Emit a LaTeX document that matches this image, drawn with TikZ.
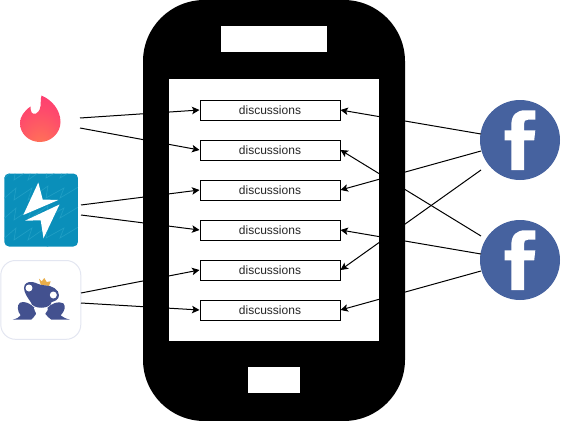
\documentclass[tikz,border=0pt]{standalone}
\usepackage{fontspec}
\setmainfont{Liberation Sans}
\usetikzlibrary{arrows.meta}
\definecolor{fbblue}{HTML}{46629F}
\definecolor{frogblue}{HTML}{43518F}
\definecolor{boltblue}{HTML}{0A8FBA}
\definecolor{boltline}{HTML}{22A0C6}
\definecolor{crown}{HTML}{E9AE4A}
\definecolor{frogedge}{HTML}{E3E6F1}
\definecolor{flameA}{HTML}{FF7854}
\definecolor{flameB}{HTML}{FE4A6C}
\definecolor{flameC}{HTML}{FD267A}
\pgfdeclareradialshading{flameshade}{\pgfpoint{0bp}{-32bp}}{
  color(0bp)=(flameA);
  color(32bp)=(flameB);
  color(68bp)=(flameC);
  color(100bp)=(flameC)}
\tikzset{
  px/.style={x=0.75pt,y=-0.75pt},
  msgbox/.style={draw=black,line width=0.75pt,fill=white,minimum width=105pt,minimum height=15pt,inner sep=0pt,text height=7pt,text depth=0pt,font=\fontsize{9}{11}\selectfont,text=black!85},
  link/.style={draw=black,line width=0.75pt,-{Stealth[length=5.6pt,width=5.6pt,inset=1.3pt]}},
  fbdisc/.style={circle,fill=fbblue,minimum size=60pt,inner sep=0pt},
}
\newcommand{\fbglyph}[1]{%
  \fill[white,shift={(#1)}] (-8.7,30) -- (-8.7,0.3) -- (-15.3,0.3) -- (-15.3,-9.7) -- (-8.7,-9.7) -- (-8.7,-15)
    .. controls (-8.7,-25.5) and (-3,-29.7) .. (5,-29.7) -- (15.3,-29.7) -- (15.3,-20.3) -- (8,-20.3)
    .. controls (5,-20.3) and (4,-19) .. (4,-16) -- (4,-9.7) -- (15.3,-9.7) -- (14.2,0.3) -- (4,0.3) -- (4,30) -- cycle;}
\begin{document}
\begin{tikzpicture}[px]
\useasboundingbox (0,0) rectangle (561,421);
% phone
\fill[black,rounded corners=46pt] (143,0) rectangle (405,421);
\fill[white] (169,79) rectangle (379,341);
\fill[white] (221,26) rectangle (327,52);
\fill[white] (248,367) rectangle (300,393);
% tinder flame
\shade[shading=flameshade] (41.5,95.5) .. controls (39.5,103) and (43,109) .. (36,113.5)
  .. controls (32,115) and (30.5,112) .. (30.5,106.5)
  .. controls (24,111) and (20,117) .. (20,123)
  .. controls (20,134) and (29,142) .. (40,142)
  .. controls (51,142) and (60.5,133) .. (60.5,122)
  .. controls (60.5,110) and (52,100) .. (41.5,95.5) -- cycle;
% bolt tile
\begin{scope}
\clip[rounded corners=3.5pt] (4.3,173.5) rectangle (78,246.5);
\fill[boltblue] (4,173) rectangle (78,247);
\foreach \yy in {168,188,208,228,248}{
  \draw[boltline,line width=0.45pt,shift={(0,\yy)}]
    (0,14) -- (16,0) -- (14,12) -- (32,0) -- (28,12) -- (48,-2) -- (46,10) -- (64,0) -- (60,10) -- (80,-2);}
\end{scope}
\fill[white] (38.3,182.5) -- (42.7,199.5) -- (58.3,200) -- (23.3,215) -- cycle;
\fill[white] (59.5,204.5) -- (43.5,238.3) -- (40.7,220.3) -- (25,220.7) -- cycle;
% frog tile
\draw[frogedge,line width=0.75pt,fill=white,rounded corners=11pt] (0.8,260.5) rectangle (80.8,339.3);
\begin{scope}[shift={(0,258)},scale=1/3]
\fill[crown] (117,62) -- (125,70) -- (133,60) -- (140,72) -- (152,70) -- (147,84) -- (122,80) -- cycle;
% head
\fill[frogblue] (72,90) .. controls (72,76) and (85,70) .. (97,72)
  .. controls (110,74) and (118,82) .. (135,82)
  .. controls (155,82) and (178,95) .. (177,112)
  .. controls (176,125) and (165,130) .. (155,132)
  .. controls (152,155) and (96,155) .. (92,132)
  .. controls (85,122) and (72,105) .. (72,90) -- cycle;
% legs
\fill[frogblue] (38,185) .. controls (50,182) and (58,178) .. (62,172)
  .. controls (52,160) and (50,142) .. (60,134)
  .. controls (72,128) and (92,136) .. (104,150)
  -- (108,168) .. controls (102,176) and (98,182) .. (94,185) -- cycle;
\fill[frogblue] (210,185) .. controls (198,182) and (188,178) .. (182,172)
  .. controls (194,160) and (198,145) .. (190,136)
  .. controls (176,128) and (154,136) .. (142,150)
  -- (136,168) .. controls (144,176) and (148,182) .. (154,185) -- cycle;
% smile
\fill[white] (102,150) .. controls (114,155) and (132,155) .. (144,151)
  .. controls (143,160) and (136,169) .. (122,169)
  .. controls (110,169) and (104,160) .. (102,150) -- cycle;
\fill[white] (87,90) circle (10.5);
\fill[white] (160,111) circle (10.5);
\end{scope}
% facebook discs
\node[fbdisc] (fbA) at (520,140) {};
\node[fbdisc] (fbB) at (520,260) {};
\fbglyph{fbA.center}
\fbglyph{fbB.center}
% message boxes
\node[msgbox] (m1) at (270,110) {discussions};
\node[msgbox] (m2) at (270,150) {discussions};
\node[msgbox] (m3) at (270,190) {discussions};
\node[msgbox] (m4) at (270,230) {discussions};
\node[msgbox] (m5) at (270,270) {discussions};
\node[msgbox] (m6) at (270,310) {discussions};
% connector free ends
\coordinate (t1) at (80,118);
\coordinate (t2) at (80,128);
\coordinate (h1) at (81,205);
\coordinate (h2) at (81,215);
\coordinate (g1) at (81,293);
\coordinate (g2) at (81,303);
\coordinate (a1) at (481,134);
\coordinate (a2) at (481,151);
\coordinate (a3) at (481,170);
\coordinate (b1) at (481,236);
\coordinate (b2) at (481,254);
\coordinate (b3) at (481,271);
\draw[link] (t1) -- (m1.west);
\draw[link] (t2) -- (m2.west);
\draw[link] (h1) -- (m3.west);
\draw[link] (h2) -- (m4.west);
\draw[link] (g1) -- (m5.west);
\draw[link] (g2) -- (m6.west);
\draw[link] (a1) -- (m1.east);
\draw[link] (a2) -- (m3.east);
\draw[link] (a3) -- (m5.east);
\draw[link] (b1) -- (m2.east);
\draw[link] (b2) -- (m4.east);
\draw[link] (b3) -- (m6.east);
\end{tikzpicture}
\end{document}
